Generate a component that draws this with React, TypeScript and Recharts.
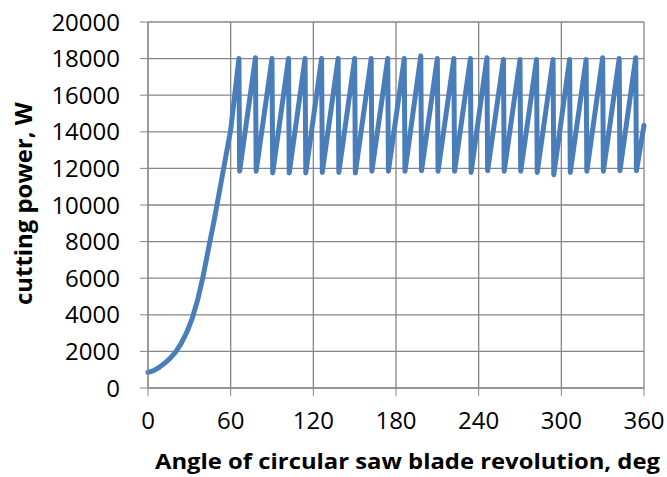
import React from "react";
import { LineChart, Line, XAxis, YAxis, CartesianGrid } from "recharts";

// run-in part of the curve, before the first tooth
const rampAngles = [0, 4, 8, 12, 16, 20, 24, 28, 32, 36, 40, 44, 48, 52, 56, 60, 63];
const rampPower = [850, 950, 1120, 1350, 1620, 1960, 2420, 3020, 3780, 4800, 6100, 7650, 9150, 10800, 12450, 14100, 16050];

// sawtooth: tops and bottoms of every tooth
const peakAngles = [66, 78, 90, 102, 114, 126, 138, 150, 162, 174, 186, 198, 210, 222, 234, 246, 258, 270, 282, 294, 306, 318, 330, 342, 354];
const peakPower = [18000, 18050, 18000, 18000, 18000, 18000, 18000, 18000, 18000, 18000, 18000, 18150, 18000, 18000, 18000, 18050, 17950, 17950, 17950, 17950, 17950, 17950, 18050, 18000, 18050];
const troughAngles = [66.5, 78.5, 90.5, 102.5, 114.5, 126.5, 138.5, 150.5, 162.5, 174.5, 186.5, 198.5, 210.5, 222.5, 234.5, 246.5, 258.5, 270.5, 282.5, 294.5, 306.5, 318.5, 330.5, 342.5, 354.5];
const troughPower = [11850, 11850, 11750, 11750, 11750, 11780, 11780, 11750, 11850, 11850, 11840, 11870, 11840, 11840, 11780, 11870, 11840, 11840, 11780, 11650, 11780, 11840, 11840, 11870, 11870];

const endAngle = 360;
const endPower = 14350;

const xTicks = [0, 60, 120, 180, 240, 300, 360];
const yTicks = [0, 2000, 4000, 6000, 8000, 10000, 12000, 14000, 16000, 18000, 20000];

const xTitle = "Angle of circular saw blade revolution, deg";
const yTitle = "cutting power, W";

const data: { angle: number; power: number }[] = [];
rampAngles.forEach((a, i) => data.push({ angle: a, power: rampPower[i] }));
peakAngles.forEach((a, i) => {
  data.push({ angle: a, power: peakPower[i] });
  data.push({ angle: troughAngles[i], power: troughPower[i] });
});
data.push({ angle: endAngle, power: endPower });

const gray = "#868686";
const font = "'Open Sans', sans-serif";
const tickStyle = { fontSize: 24, fill: "#000", fontFamily: font };

export default function App() {
  return (
    <div style={{ position: "absolute", left: 0, top: 0, background: "#fff" }}>
      <LineChart
        width={667}
        height={477}
        data={data}
        margin={{ top: 22, right: 23, bottom: 0, left: 0 }}
      >
        <CartesianGrid stroke={gray} strokeWidth={1.3} />
        <XAxis
          dataKey="angle"
          type="number"
          domain={[0, 360]}
          ticks={xTicks}
          interval={0}
          height={89}
          tickSize={8}
          tickMargin={16}
          stroke={gray}
          tick={tickStyle}
          label={{
            content: () => (
              <text
                x={155}
                y={469}
                textLength={505}
                lengthAdjust="spacingAndGlyphs"
                style={{ fontFamily: font, fontWeight: 700, fontSize: 22 }}
                fill="#000"
              >
                {xTitle}
              </text>
            ),
          }}
        />
        <YAxis
          type="number"
          domain={[0, 20000]}
          ticks={yTicks}
          interval={0}
          width={148}
          tickSize={8}
          tickMargin={20}
          stroke={gray}
          tick={tickStyle}
          label={{
            content: () => (
              <text
                x={32}
                y={203.5}
                transform="rotate(-90 32 203.5)"
                textAnchor="middle"
                textLength={203}
                lengthAdjust="spacingAndGlyphs"
                style={{ fontFamily: font, fontWeight: 700, fontSize: 23 }}
                fill="#000"
              >
                {yTitle}
              </text>
            ),
          }}
        />
        <Line
          type="linear"
          dataKey="power"
          stroke="#4a7ebb"
          strokeWidth={5}
          strokeLinecap="round"
          strokeLinejoin="round"
          dot={false}
          isAnimationActive={false}
        />
      </LineChart>
    </div>
  );
}
